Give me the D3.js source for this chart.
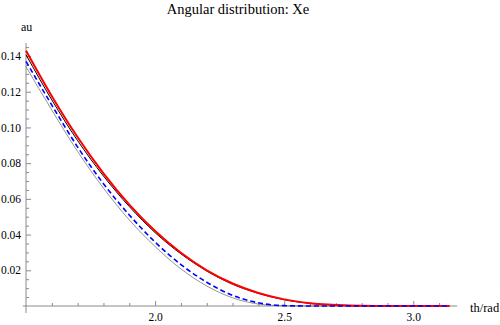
<!DOCTYPE html>
<html>
<head>
<meta charset="utf-8">
<script src="https://cdn.jsdelivr.net/npm/d3@7"></script>
<style>
  body { margin: 0; background: #fff; }
  svg { font-family: "Liberation Serif", "Times New Roman", serif; }
</style>
</head>
<body>
<svg width="500" height="325"></svg>
<script>
// angle values (rad)
const theta = [1.5, 1.6, 1.7, 1.8, 1.9, 2.0, 2.1, 2.2, 2.3, 2.4, 2.5, 2.6, 2.7, 2.8, 2.9, 3.0, 3.1, 3.14];
// curves
const redVals   = [0.143, 0.1175, 0.0945, 0.0743, 0.0568, 0.0420, 0.0298, 0.0200, 0.0126, 0.0073, 0.0037, 0.0016, 0.0006, 0.00015, 0, 0, 0, 0];
const blackVals = [0.1407, 0.1154, 0.0926, 0.0728, 0.0557, 0.0411, 0.0292, 0.0196, 0.0122, 0.0071, 0.0035, 0.0015, 0.0006, 0.00015, 0, 0, 0, 0];
const blueVals  = [0.137, 0.1125, 0.089, 0.0685, 0.051, 0.0358, 0.0232, 0.0133, 0.0060, 0.0018, 0.0002, 0, 0, 0, 0, 0, 0, 0];
const grayVals  = [0.134, 0.1097, 0.0865, 0.0660, 0.0482, 0.0333, 0.0208, 0.0112, 0.0046, 0.0011, 0.0001, 0, 0, 0, 0, 0, 0, 0];

const xMajor = [2.0, 2.5, 3.0];
const xMinor = [1.6, 1.7, 1.8, 1.9, 2.1, 2.2, 2.3, 2.4, 2.6, 2.7, 2.8, 2.9, 3.1];
const yMajor = [0.02, 0.04, 0.06, 0.08, 0.10, 0.12, 0.14];
const yMinor = [0.005, 0.01, 0.015, 0.025, 0.03, 0.035, 0.045, 0.05, 0.055, 0.065, 0.07, 0.075,
                0.085, 0.09, 0.095, 0.105, 0.11, 0.115, 0.125, 0.13, 0.135, 0.145];

const svg = d3.select("svg");
const x = d3.scaleLinear().domain([1.5, 3.0]).range([26, 413.3]);
const y = d3.scaleLinear().domain([0, 0.14]).range([306, 56]);
const axisColor = "#8a8a8a";

// axis lines (slightly beyond the plotted range, like the original)
svg.append("line")
    .attr("x1", x(1.488)).attr("x2", x(3.17))
    .attr("y1", y(0)).attr("y2", y(0))
    .attr("stroke", axisColor);
svg.append("line")
    .attr("x1", x(1.5)).attr("x2", x(1.5))
    .attr("y1", y(-0.0039)).attr("y2", y(0.1473))
    .attr("stroke", axisColor);

function styleAxis(g) {
    g.attr("font-family", null).attr("font-size", null);
    g.select(".domain").remove();
    g.selectAll(".tick line").attr("stroke", axisColor);
    g.selectAll(".tick text").attr("fill", "#000")
        .style("font-family", "'Liberation Serif', serif").style("font-size", "11.5px");
}

svg.append("g")
    .attr("transform", `translate(0,${y(0)})`)
    .call(d3.axisBottom(x).tickValues(xMajor).tickFormat(d3.format(".1f")).tickSize(-5).tickPadding(7))
    .call(styleAxis);
svg.append("g")
    .attr("transform", `translate(0,${y(0)})`)
    .call(d3.axisBottom(x).tickValues(xMinor).tickFormat("").tickSize(-3))
    .call(styleAxis);

svg.append("g")
    .attr("transform", `translate(${x(1.5)},0)`)
    .call(d3.axisLeft(y).tickValues(yMajor).tickFormat(d3.format(".2f")).tickSize(-5).tickPadding(5))
    .call(styleAxis);
svg.append("g")
    .attr("transform", `translate(${x(1.5)},0)`)
    .call(d3.axisLeft(y).tickValues(yMinor).tickFormat("").tickSize(-3))
    .call(styleAxis);

// curves
const line = vals => d3.line()
    .x((d, i) => x(theta[i]))
    .y(d => y(d))
    .curve(d3.curveMonotoneX)(vals);

svg.append("path").attr("d", line(grayVals))
    .attr("fill", "none").attr("stroke", "#7a7a7a").attr("stroke-width", 0.8);
svg.append("path").attr("d", line(blackVals))
    .attr("fill", "none").attr("stroke", "#000").attr("stroke-width", 1);
svg.append("path").attr("d", line(redVals))
    .attr("fill", "none").attr("stroke", "#ff0000").attr("stroke-width", 2);
svg.append("path").attr("d", line(blueVals))
    .attr("fill", "none").attr("stroke", "#0000ff").attr("stroke-width", 1.6)
    .attr("stroke-dasharray", "5,3");

// labels
svg.append("text")
    .attr("x", 238).attr("y", 14)
    .attr("text-anchor", "middle")
    .style("font-size", "14.5px")
    .text("Angular distribution: Xe");
svg.append("text")
    .attr("x", 21).attr("y", 30.5)
    .style("font-size", "12px")
    .text("au");
svg.append("text")
    .attr("x", 470).attr("y", 311.5)
    .style("font-size", "12.5px")
    .text("th/rad");
</script>
</body>
</html>
